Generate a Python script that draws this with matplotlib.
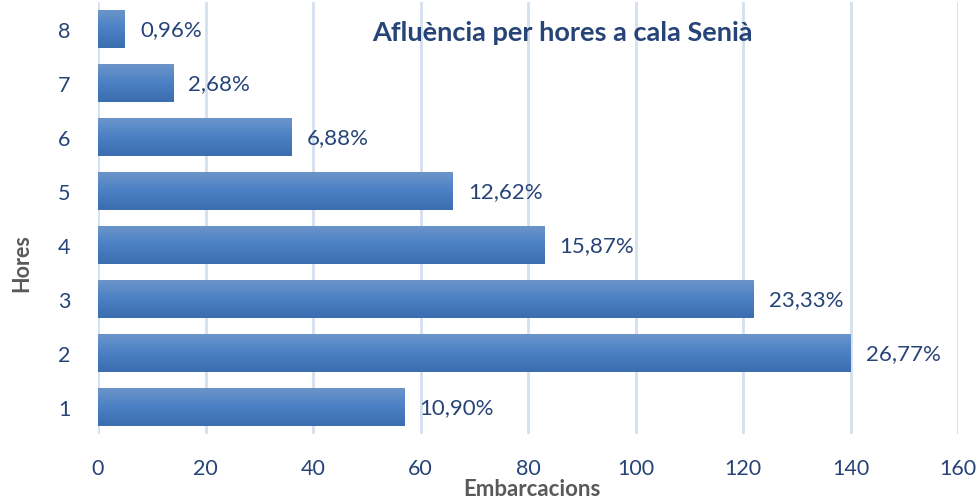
import matplotlib
matplotlib.use("Agg")
import matplotlib.pyplot as plt
import numpy as np
from matplotlib.colors import LinearSegmentedColormap

hores = ["1", "2", "3", "4", "5", "6", "7", "8"]
embarcacions = [57, 140, 122, 83, 66, 36, 14, 5]
percentatges = ["10,90%", "26,77%", "23,33%", "15,87%", "12,62%", "6,88%", "2,68%", "0,96%"]

TEXT_BLUE = "#264478"
plt.rcParams["font.family"] = ["Lato", "DejaVu Sans"]

fig = plt.figure(figsize=(9.8, 5.02), dpi=100)
ax = fig.add_axes([0.1, 0.1335, 0.8776, 0.8605])

y = np.arange(len(hores))
height = 0.7
bars = ax.barh(y, embarcacions, height=height, color="none", zorder=2)

# vertical gradient inside each bar
grad = LinearSegmentedColormap.from_list("bar", ["#3B6DAF", "#4A80C4", "#6B95CA"])
gradient = np.linspace(0, 1, 256).reshape(-1, 1)
for bar in bars:
    x0, y0 = bar.get_x(), bar.get_y()
    w, h = bar.get_width(), bar.get_height()
    ax.imshow(gradient, cmap=grad, aspect="auto", origin="lower",
              extent=(x0, x0 + w, y0, y0 + h), zorder=2)

for yi, val, lab in zip(y, embarcacions, percentatges):
    ax.text(val + 2.8, yi, lab, va="center", ha="left", fontsize=16, color=TEXT_BLUE)

ax.set_xlim(0, 160)
ax.set_ylim(-0.5, len(hores) - 0.5)
ax.set_xticks(np.arange(0, 161, 20))
ax.set_yticks(y)
ax.set_yticklabels(hores)
ax.tick_params(axis="both", length=0, labelsize=15.5, labelcolor=TEXT_BLUE)
ax.tick_params(axis="x", pad=17)
ax.tick_params(axis="y", pad=20)
ax.grid(axis="x", color="#D5E0EF", linewidth=2, zorder=0)
ax.set_axisbelow(True)
for s in ax.spines.values():
    s.set_visible(False)

ax.text(0.54, 0.93, "Afluència per hores a cala Senià", transform=ax.transAxes,
        ha="center", va="center", fontsize=19.5, fontweight="bold", color=TEXT_BLUE)
fig.text(0.543, 0.024, "Embarcacions", ha="center", va="center",
         fontsize=16, fontweight="bold", color="#595959")
fig.text(0.022, 0.476, "Hores", ha="center", va="center", rotation=90,
         fontsize=15.5, fontweight="bold", color="#595959")

fig.savefig("out.png", dpi=100)
